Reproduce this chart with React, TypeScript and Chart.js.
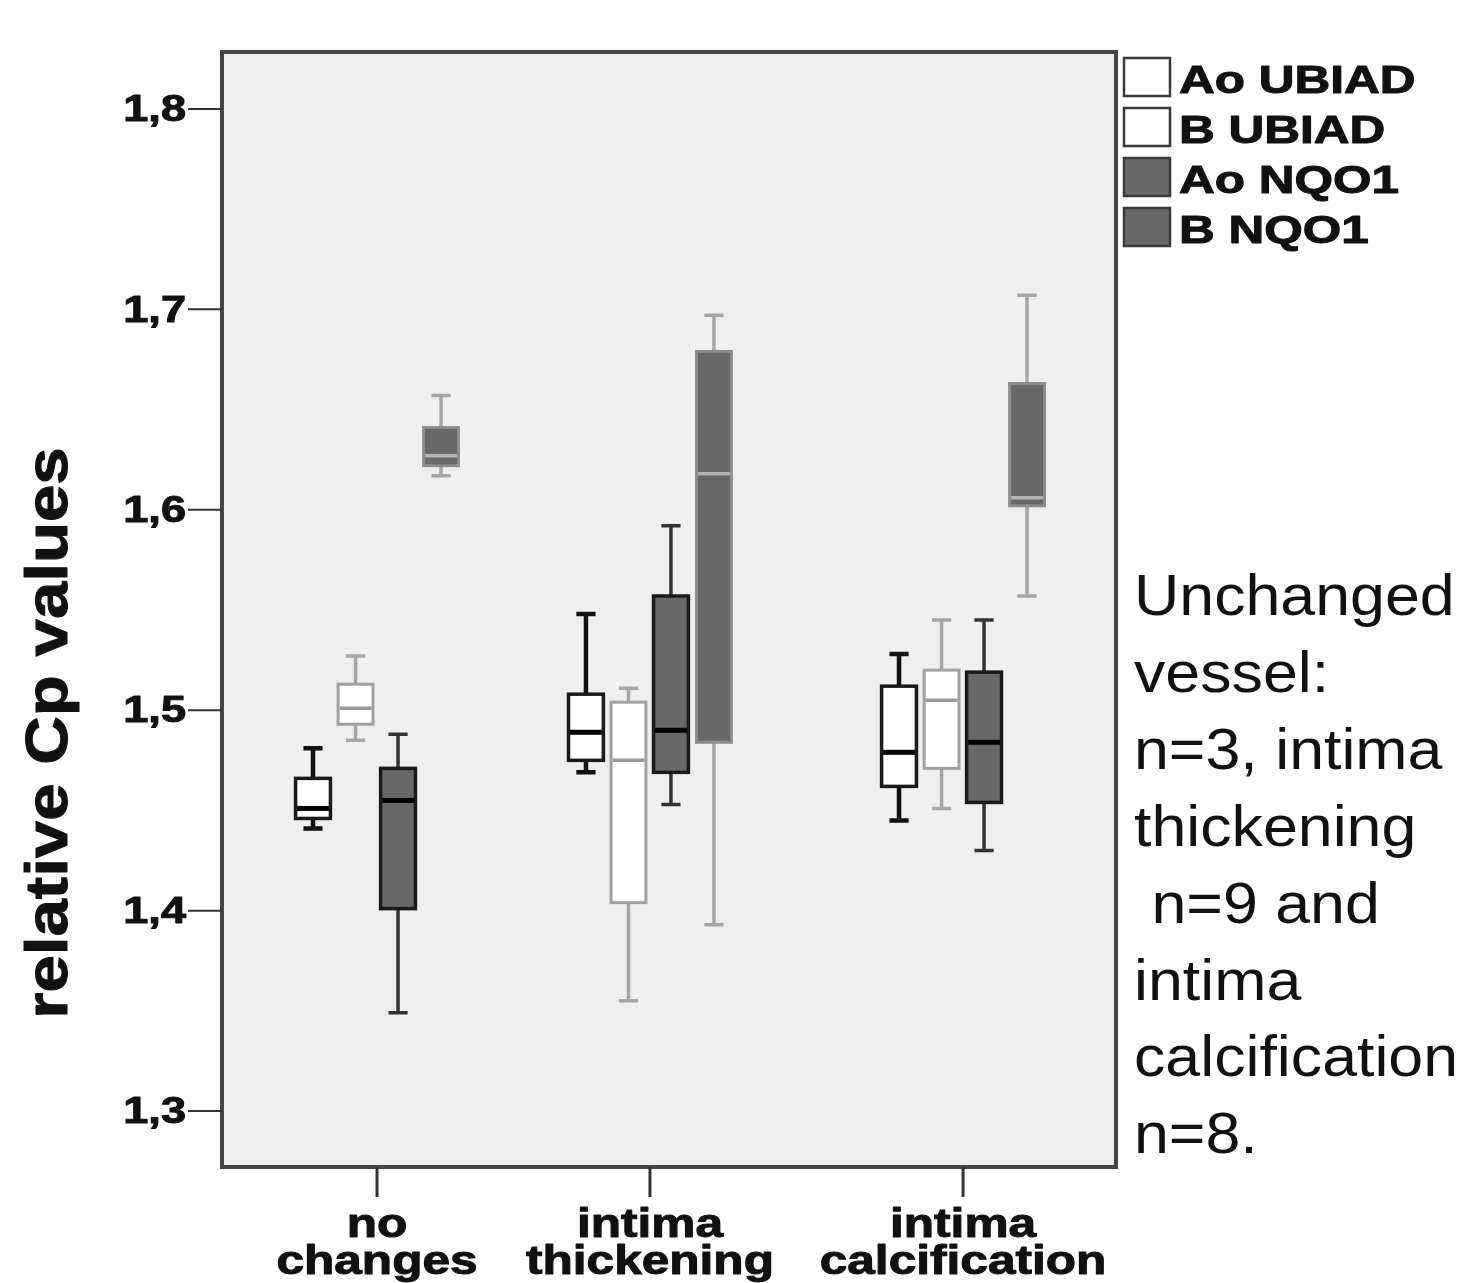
import React, { useEffect, useRef } from "react";
import { Chart, registerables } from "chart.js";

Chart.register(...registerables);

// ---- data ----
const CATEGORIES = [["no", "changes"], ["intima", "thickening"], ["intima", "calcification"]];
const CATEGORY_POS = [17.34, 47.87, 82.89];
const SERIES_NAMES = ["Ao UBIAD", "B UBIAD", "Ao NQO1", "B NQO1"];
// each entry: [min, q1, median, q3, max] per category
const AO_UBIAD = [
  [1.441, 1.446, 1.451, 1.466, 1.481],
  [1.469, 1.475, 1.489, 1.508, 1.548],
  [1.445, 1.462, 1.479, 1.512, 1.528],
];
const B_UBIAD = [
  [1.485, 1.493, 1.501, 1.513, 1.527],
  [1.355, 1.404, 1.475, 1.504, 1.511],
  [1.451, 1.471, 1.505, 1.520, 1.545],
];
const AO_NQO1 = [
  [1.349, 1.401, 1.455, 1.471, 1.488],
  [1.453, 1.469, 1.490, 1.557, 1.592],
  [1.430, 1.454, 1.484, 1.519, 1.545],
];
const B_NQO1 = [
  [1.617, 1.622, 1.627, 1.641, 1.657],
  [1.393, 1.484, 1.618, 1.679, 1.697],
  [1.557, 1.602, 1.606, 1.663, 1.707],
];
const Y_TICKS = [1.3, 1.4, 1.5, 1.6, 1.7, 1.8];
const Y_TICK_LABELS = ["1,3", "1,4", "1,5", "1,6", "1,7", "1,8"];
const Y_TITLE = "relative Cp values";
const NOTE_LINES = ["Unchanged", "vessel:", "n=3, intima", "thickening", " n=9 and", "intima", "calcification", "n=8."];

// ---- style ----
const SERIES_DATA = [AO_UBIAD, B_UBIAD, AO_NQO1, B_NQO1];
const SERIES_OFFSET = [-7.16, -2.4, 2.35, 7.16];
const BOX_WIDTH = 3.9;
const SERIES_STYLE = [
  { fill: "#ffffff", border: "#1a1a1a", borderW: 3.5, whisker: "#111111", median: "#000000", medW: 5, wW: 4.5 },
  { fill: "#ffffff", border: "#a0a0a0", borderW: 3, whisker: "#a6a6a6", median: "#9a9a9a", medW: 3.5, wW: 3.5 },
  { fill: "#686868", border: "#1a1a1a", borderW: 3.5, whisker: "#333333", median: "#000000", medW: 5, wW: 3.5 },
  { fill: "#686868", border: "#8c8c8c", borderW: 3, whisker: "#a6a6a6", median: "#b4b4b4", medW: 3.5, wW: 3.5 },
];
const SANS = '"Liberation Sans", Arial, sans-serif';

function stretchedText(ctx: CanvasRenderingContext2D, text: string, x: number, y: number, sx: number, align: CanvasTextAlign, rot = 0, heavy = 0) {
  ctx.save();
  ctx.translate(x, y);
  if (rot) ctx.rotate(rot);
  ctx.scale(sx, 1);
  ctx.textAlign = align;
  ctx.fillText(text, 0, 0);
  if (heavy > 0) {
    ctx.strokeStyle = ctx.fillStyle as string;
    ctx.lineWidth = heavy;
    ctx.lineJoin = "round";
    ctx.strokeText(text, 0, 0);
  }
  ctx.restore();
}

const boxPlugin = {
  id: "boxPlugin",
  beforeDraw(chart: any) {
    const { ctx, chartArea: a } = chart;
    ctx.save();
    ctx.fillStyle = "#ffffff";
    ctx.fillRect(0, 0, chart.width, chart.height);
    ctx.fillStyle = "#efefef";
    ctx.fillRect(a.left, a.top, a.right - a.left, a.bottom - a.top);
    ctx.restore();
  },
  afterDatasetsDraw(chart: any) {
    const { ctx, chartArea: a } = chart;
    const xs = chart.scales.x;
    const ys = chart.scales.y;
    const halfW = (xs.getPixelForValue(BOX_WIDTH) - xs.getPixelForValue(0)) / 2;
    ctx.save();
    ctx.lineCap = "butt";
    SERIES_DATA.forEach((series, s) => {
      const st = SERIES_STYLE[s];
      series.forEach((v, c) => {
        const cx = xs.getPixelForValue(CATEGORY_POS[c] + SERIES_OFFSET[s]);
        const [mn, q1, md, q3, mx] = v.map((d) => ys.getPixelForValue(d));
        ctx.strokeStyle = st.whisker;
        ctx.lineWidth = st.wW;
        ctx.beginPath();
        ctx.moveTo(cx, mx); ctx.lineTo(cx, q3);
        ctx.moveTo(cx, q1); ctx.lineTo(cx, mn);
        const cw = halfW * 0.55;
        ctx.moveTo(cx - cw, mx); ctx.lineTo(cx + cw, mx);
        ctx.moveTo(cx - cw, mn); ctx.lineTo(cx + cw, mn);
        ctx.stroke();
        ctx.fillStyle = st.fill;
        ctx.fillRect(cx - halfW, q3, halfW * 2, q1 - q3);
        ctx.strokeStyle = st.border;
        ctx.lineWidth = st.borderW;
        ctx.strokeRect(cx - halfW, q3, halfW * 2, q1 - q3);
        ctx.strokeStyle = st.median;
        ctx.lineWidth = st.medW;
        ctx.beginPath();
        ctx.moveTo(cx - halfW + 1.5, md); ctx.lineTo(cx + halfW - 1.5, md);
        ctx.stroke();
      });
    });

    // frame
    ctx.strokeStyle = "#454545";
    ctx.lineWidth = 4;
    ctx.strokeRect(a.left, a.top, a.right - a.left, a.bottom - a.top);

    // y ticks
    ctx.fillStyle = "#111111";
    ctx.strokeStyle = "#333333";
    ctx.lineWidth = 2;
    ctx.font = `bold 37px ${SANS}`;
    ctx.textBaseline = "middle";
    Y_TICKS.forEach((t, i) => {
      const y = ys.getPixelForValue(t);
      ctx.strokeStyle = "#333333";
      ctx.lineWidth = 2;
      ctx.beginPath();
      ctx.moveTo(a.left - 34, y); ctx.lineTo(a.left, y);
      ctx.stroke();
      stretchedText(ctx, Y_TICK_LABELS[i], a.left - 36, y + 2, 1.22, "right", 0, 1);
    });

    // x ticks
    ctx.textBaseline = "alphabetic";
    ctx.font = `bold 40px ${SANS}`;
    CATEGORIES.forEach((lines, c) => {
      const x = xs.getPixelForValue(CATEGORY_POS[c]);
      ctx.strokeStyle = "#333333";
      ctx.lineWidth = 3;
      ctx.beginPath();
      ctx.moveTo(x, a.bottom); ctx.lineTo(x, a.bottom + 30);
      ctx.stroke();
      lines.forEach((ln, k) => stretchedText(ctx, ln, x, a.bottom + 70 + k * 37, 1.24, "center", 0, 1));
    });

    // y title
    ctx.font = `bold 60px ${SANS}`;
    stretchedText(ctx, Y_TITLE, 67, 733, 1.12, "center", -Math.PI / 2, 1);

    // legend
    ctx.font = `bold 39px ${SANS}`;
    SERIES_NAMES.forEach((name, s) => {
      const top = 58 + s * 50;
      ctx.fillStyle = SERIES_STYLE[s].fill;
      ctx.fillRect(1124, top, 46, 38);
      ctx.strokeStyle = "#3a3a3a";
      ctx.lineWidth = 2.5;
      ctx.strokeRect(1124, top, 46, 38);
      ctx.fillStyle = "#111111";
      stretchedText(ctx, name, 1179, top + 35, 1.27, "left", 0, 1);
    });

    // note
    ctx.font = `57px ${SANS}`;
    ctx.fillStyle = "#111111";
    NOTE_LINES.forEach((ln, i) => stretchedText(ctx, ln, 1134, 615 + i * 76.9, 1.1, "left"));
    ctx.restore();
  },
};

export default function App() {
  const ref = useRef<HTMLCanvasElement>(null);
  useEffect(() => {
    if (!ref.current) return;
    const chart = new Chart(ref.current, {
      type: "scatter",
      data: {
        datasets: SERIES_NAMES.map((name, s) => ({
          label: name,
          data: SERIES_DATA[s].map((v, c) => ({ x: CATEGORY_POS[c] + SERIES_OFFSET[s], y: v[2] })),
          pointRadius: 0,
          pointHoverRadius: 0,
        })),
      },
      options: {
        animation: false,
        responsive: false,
        events: [],
        layout: { padding: { left: 222, right: 346, top: 52, bottom: 116 } },
        plugins: { legend: { display: false }, tooltip: { enabled: false } },
        scales: {
          x: { type: "linear", min: 0, max: 100, display: false },
          y: { type: "linear", min: 1.2721, max: 1.8284, display: false },
        },
      },
      plugins: [boxPlugin],
    });
    return () => chart.destroy();
  }, []);
  return (
    <div style={{ position: "fixed", left: 0, top: 0, width: 1462, height: 1283, background: "#fff" }}>
      <canvas ref={ref} width={1462} height={1283} style={{ width: 1462, height: 1283, display: "block" }} />
    </div>
  );
}
